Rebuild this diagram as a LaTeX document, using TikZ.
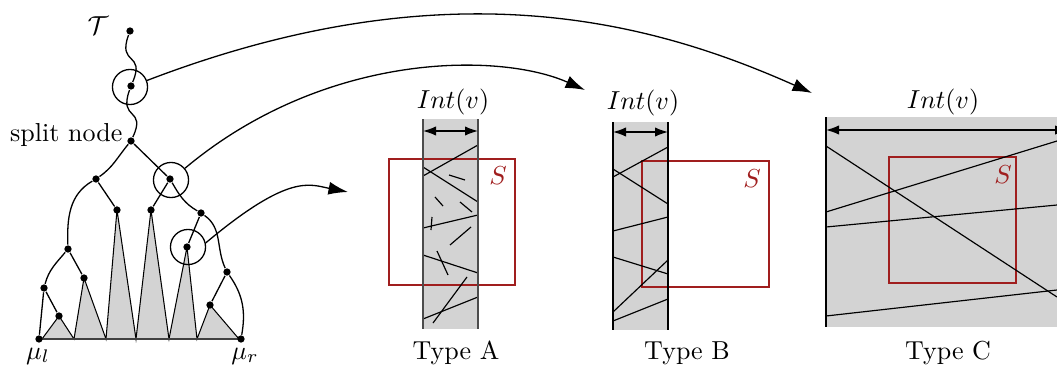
\documentclass[tikz,border=0pt]{standalone}
\usetikzlibrary{arrows.meta,backgrounds}
\definecolor{panelgray}{RGB}{211,211,211}
\definecolor{sred}{RGB}{160,30,30}
\begin{document}
\begin{tikzpicture}[x=0.3846pt,y=0.3846pt,line width=0.5pt,
  dot/.style={circle,fill,inner sep=0pt,minimum size=2.8pt},
  ring/.style={circle,draw,inner sep=0pt,minimum size=13.5pt},
  tri/.style={fill=panelgray},
  bigarrow/.style={-{Latex[length=7.5pt,width=5pt]}},
  span/.style={{Latex[length=5pt,width=3.6pt]}-{Latex[length=5pt,width=3.6pt]}},
  strip/.style={fill=panelgray},
  seg/.style={line width=0.45pt},
  region/.style={draw=sred,line width=0.5pt},
  rlabel/.style={text=sred},
]
\useasboundingbox (0,0) rectangle (1057,-367);
\clip (0,0) rectangle (1057,-367);

% ---------------- the tree ----------------
\node[dot] (r0) at (130,-31) {};
\node[dot] (v1) at (131,-86) {};
\node[dot] (sp) at (131,-141) {};
\node[dot] (a)  at (96,-179) {};
\node[dot] (b)  at (170,-179) {};
\node[dot] (c)  at (117,-210) {};
\node[dot] (d)  at (151,-210) {};
\node[dot] (e)  at (201,-213) {};
\node[dot] (f)  at (187,-247) {};
\node[dot] (g)  at (68,-249) {};
\node[dot] (h)  at (84,-278) {};
\node[dot] (i)  at (44,-288) {};
\node[dot] (j)  at (59,-316) {};
\node[dot] (k)  at (227,-272) {};
\node[dot] (l)  at (210,-305) {};
\node[dot] (ml) at (39,-339) {};
\node[dot] (mr) at (241,-339) {};

\node[ring] (c1) at (130,-87) {};
\node[ring] (c2) at (171,-180) {};
\node[ring] (c3) at (188,-247) {};

% bases of the shaded subtrees
\coordinate (q1) at (42,-339);
\coordinate (q2) at (74,-339);
\coordinate (q3) at (106,-339);
\coordinate (q4) at (136,-339);
\coordinate (q5) at (169,-339);
\coordinate (q6) at (197,-339);
\coordinate (q7) at (239,-339);

\begin{scope}[on background layer]
  \fill[tri] (j.center) -- (q1) -- (q2) -- cycle;
  \fill[tri] (h.center) -- (q2) -- (q3) -- cycle;
  \fill[tri] (c.center) -- (q3) -- (q4) -- cycle;
  \fill[tri] (d.center) -- (q4) -- (q5) -- cycle;
  \fill[tri] (f.center) -- (q5) -- (q6) -- cycle;
  \fill[tri] (l.center) -- (q6) -- (q7) -- cycle;
  \draw (q1) -- (j.center) -- (q2) -- (h.center) -- (q3) -- (c.center) -- (q4)
        -- (d.center) -- (q5) -- (f.center) -- (q6) -- (l.center) -- (q7);
  \draw[black!75,line width=0.8pt] (ml.center) -- (mr.center);
\end{scope}

\draw (r0) to[out=250,in=67,looseness=1.8] (v1);
\draw (v1) to[out=250,in=65,looseness=1.8] (sp);
\draw (sp) to[out=230,in=35] (a);
\draw (sp) -- (b);
\draw (a) to[out=210,in=92] (g);
\draw (a) -- (c);
\draw (b) -- (d);
\draw (b) to[out=300,in=150] (e);
\draw (e) -- (f);
\draw (e) to[out=-35,in=115] (k);
\draw (g) to[out=230,in=75] (i);
\draw (g) -- (h);
\draw (i) -- (ml);
\draw (i) -- (j);
\draw (k) -- (l);
\draw (k) to[out=-55,in=80] (mr);

\node (tname) at (98,-26) {$\mathcal{T}$};
\node[anchor=east,inner sep=0pt] (splitlbl) at (123,-135) {split node};
\node (mul) at (38,-356) {$\mu_l$};
\node (mur) at (245,-356) {$\mu_r$};

% ---------------- type A ----------------
\fill[strip] (423,-119) rectangle (478,-329);
\draw[region] (389,-159) rectangle (515,-285);
\draw[seg] (423,-176) -- (478,-145);
\draw[seg] (423,-167) -- (478,-202);
\draw[seg] (449,-175) -- (465,-180);
\draw[seg] (435,-197) -- (443,-206);
\draw[seg] (460,-202) -- (472,-212);
\draw[seg] (423,-228) -- (478,-215);
\draw[seg] (432,-217) -- (431,-230);
\draw[seg] (450,-245) -- (471,-227);
\draw[seg] (423,-255) -- (478,-273);
\draw[seg] (437,-251) -- (448,-275);
\draw[seg] (423,-319) -- (478,-297);
\draw[seg] (433,-323) -- (467,-277);
\draw[black!70,line width=0.8pt] (423,-119) -- (423,-329) (478,-119) -- (478,-329);
\coordinate (aL) at (423,-131);
\coordinate (aR) at (478,-131);
\draw[span] (aL) -- (aR);
\node (intA) at (453,-102) {$Int(v)$};
\node[rlabel] (sA) at (498,-176) {$S$};
\node (typeA) at (456,-353) {Type A};

% ---------------- type B ----------------
\fill[strip] (613,-122) rectangle (668,-330);
\draw[region] (642,-161) rectangle (769,-287);
\draw[seg] (613,-177) -- (668,-147);
\draw[seg] (613,-169) -- (668,-204);
\draw[seg] (613,-231) -- (668,-217);
\draw[seg] (613,-257) -- (668,-274);
\draw[seg] (613,-312) -- (668,-260);
\draw[seg] (613,-321) -- (668,-299);
\draw (613,-122) -- (613,-330) (668,-122) -- (668,-330);
\coordinate (bL) at (613,-132);
\coordinate (bR) at (668,-132);
\draw[span] (bL) -- (bR);
\node (intB) at (643,-103) {$Int(v)$};
\node[rlabel] (sB) at (752,-179) {$S$};
\node (typeB) at (687,-353) {Type B};

% ---------------- type C ----------------
\fill[strip] (826,-117) rectangle (1080,-327);
\draw[region] (889,-157) rectangle (1016,-283);
\draw[seg] (826,-146) -- (1057,-297);
\draw[seg] (826,-212) -- (1057,-141);
\draw[seg] (826,-227) -- (1057,-205);
\draw[seg] (826,-316) -- (1057,-290);
\draw (826,-117) -- (826,-327);
\coordinate (cL) at (826,-130);
\coordinate (cR) at (1068,-130);
\draw[span] (cL) -- (cR);
\node (intC) at (943,-102) {$Int(v)$};
\node[rlabel] (sC) at (1003,-175) {$S$};
\node (typeC) at (948,-353) {Type C};

% ---------------- zoom-in arrows ----------------
\coordinate (t1) at (812,-93);
\coordinate (t2) at (585,-90);
\coordinate (t3) at (348,-192);
\draw[bigarrow] (c1) to[out=21,in=156,out distance=125pt,in distance=66pt] (t1);
\draw[bigarrow] (c2) to[out=40,in=156,out distance=70pt,in distance=36pt] (t2);
\draw[bigarrow] (c3.13) to[out=40,in=169,out distance=42pt,in distance=15pt] (t3);
\end{tikzpicture}
\end{document}
